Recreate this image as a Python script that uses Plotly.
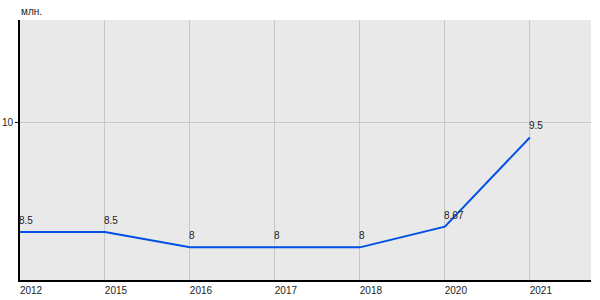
import plotly.graph_objects as go

years = ["2012", "2015", "2016", "2017", "2018", "2020", "2021"]
# values as read against the y axis (10 tick)
values = [6.4, 6.4, 5.9, 5.9, 5.9, 6.58, 9.5]
# data labels as printed on the chart
labels = ["8.5", "8.5", "8", "8", "8", "8.67", "9.5"]
y_ticks = [10]
y_tick_text = ["10"]
unit = "млн."

FONT = "Liberation Sans, Arial"
fig = go.Figure()
fig.add_trace(go.Scatter(
    x=years, y=values, mode="lines",
    line=dict(color="#0050e6", width=2),
    cliponaxis=False, hoverinfo="skip",
))

annotations = [dict(text=unit, x=0, y=1, xref="paper", yref="paper",
                    xanchor="left", yanchor="bottom", yshift=1, xshift=-1,
                    showarrow=False, font=dict(family=FONT, size=10, color="#222222"))]
for i, (yv, t) in enumerate(zip(values, labels)):
    annotations.append(dict(text=t, x=i, y=yv, xref="x", yref="y",
                            xanchor="left", yanchor="bottom", yshift=4, xshift=-3,
                            showarrow=False,
                            font=dict(family=FONT, size=10, color="#222222")))

fig.update_layout(
    width=600, height=300,
    margin=dict(l=20, r=9, t=20, b=20),
    paper_bgcolor="white", plot_bgcolor="#e9e9e9",
    showlegend=False,
    font=dict(family=FONT, size=10, color="#222222"),
    annotations=annotations,
)
fig.update_xaxes(
    type="category", range=[0, 6.72], automargin=False,
    showgrid=True, gridcolor="#c8c8c8", gridwidth=1,
    showline=True, linecolor="black", linewidth=2,
    ticks="", ticklabelshift=11, ticklabelstandoff=0,
    tickfont=dict(size=10, color="#222222"), zeroline=False,
)
fig.update_yaxes(
    range=[4.83, 13.35], tickvals=y_ticks, ticktext=y_tick_text, automargin=False,
    showgrid=True, gridcolor="#c8c8c8", gridwidth=1,
    showline=True, linecolor="black", linewidth=2,
    ticks="outside", ticklen=3, tickcolor="black", tickwidth=1,
    tickfont=dict(size=10, color="#222222"), zeroline=False,
)

fig.write_html("out.html")
